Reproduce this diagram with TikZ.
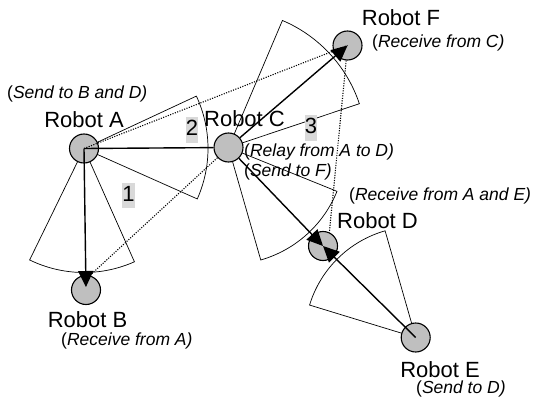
\documentclass[tikz,border=0pt]{standalone}
\usepackage{fontspec}
\setmainfont{Liberation Sans}
\usetikzlibrary{arrows.meta,backgrounds}
\begin{document}
\begin{tikzpicture}[x=1pt,y=-1pt,
 robot/.style={circle,draw,line width=1.1pt,fill=black!25,minimum size=29pt,inner sep=0pt},
 sec/.style={line width=0.7pt},
 dot/.style={line width=1.1pt,dash pattern=on 1.1pt off 1.4pt},
 arr/.style={line width=1.4pt,-{Triangle[length=16pt,width=15pt]}},
 lbl/.style={font=\fontsize{22}{24}\selectfont,inner sep=0pt,anchor=base},
 note/.style={font=\fontsize{17.5}{20}\selectfont\itshape,inner sep=0pt,anchor=base west},
 num/.style={font=\fontsize{22}{24}\selectfont,fill=black!15,inner sep=0pt,text height=18pt,text depth=7pt}]
\useasboundingbox (0,0) rectangle (535,401);

% robots
\node[robot] (A) at (84,148.5) {};
\node[robot] (B) at (86,290) {};
\node[robot] (C) at (228.5,147.5) {};
\node[robot] (F) at (347.5,45.5) {};
\node[robot] (D) at (323,246) {};
\node[robot] (E) at (415.7,337.5) {};

\begin{scope}[on background layer]
 % sectors
 \draw[sec] (A.center) -- ++(66:124) arc[start angle=66,end angle=116,radius=124] -- cycle;
 \draw[sec] (A.center) -- ++(-25:124) arc[start angle=-25,end angle=24,radius=124] -- cycle;
 \draw[sec] (C.center) -- ++(-67:138) arc[start angle=-67,end angle=-18.5,radius=138] -- cycle;
 \draw[sec] (C.center) -- ++(22:117) arc[start angle=22,end angle=74,radius=117] -- cycle;
 \draw[sec] (E.center) -- ++(-163:111) arc[start angle=-163,end angle=-106,radius=111] -- cycle;
 % dotted links
 \draw[dot] (B.75) -- (C.center);
 \draw[dot] (F.265) -- (D.65);
\end{scope}

\draw[dot] (A.center) -- (F.center);
\draw[line width=1.4pt] (A.center) -- (C);
\draw[arr,shorten >=3pt] (A.center) -- (B.center);
\draw[arr] (C) -- (F.center);
\draw[arr] (C) -- (D.center);
\draw[arr] (E.center) -- (D.center);

% numbers
\node[num] (n1) at (128.5,195.5) {1};
\node[num] (n2) at (192,130) {2};
\node[num] (n3) at (311,128) {3};

% robot names
\node[lbl] (tA) at (84,128) {Robot A};
\node[lbl] (tB) at (87.5,327) {Robot B};
\node[lbl] (tC) at (244.5,126) {Robot C};
\node[lbl] (tF) at (401,26) {Robot F};
\node[lbl] (tD) at (377.5,228) {Robot D};
\node[lbl] (tE) at (440,377) {Robot E};

% notes
\node[note] (nA) at (7,99) {\upshape(\itshape Send to B and D)};
\node[note] (nB) at (61,345.5) {\upshape(\itshape Receive from A)};
\node[note] (nC1) at (244,157) {\upshape(\itshape Relay from A to D)};
\node[note] (nC2) at (244,176) {\upshape(\itshape Send to F)};
\node[note] (nF) at (372,47.5) {\upshape(\itshape Receive from C)};
\node[note] (nD) at (349,200.5) {\upshape(\itshape Receive from A and E)};
\node[note] (nE) at (416,393.5) {\upshape(\itshape Send to D)};
\end{tikzpicture}
\end{document}
